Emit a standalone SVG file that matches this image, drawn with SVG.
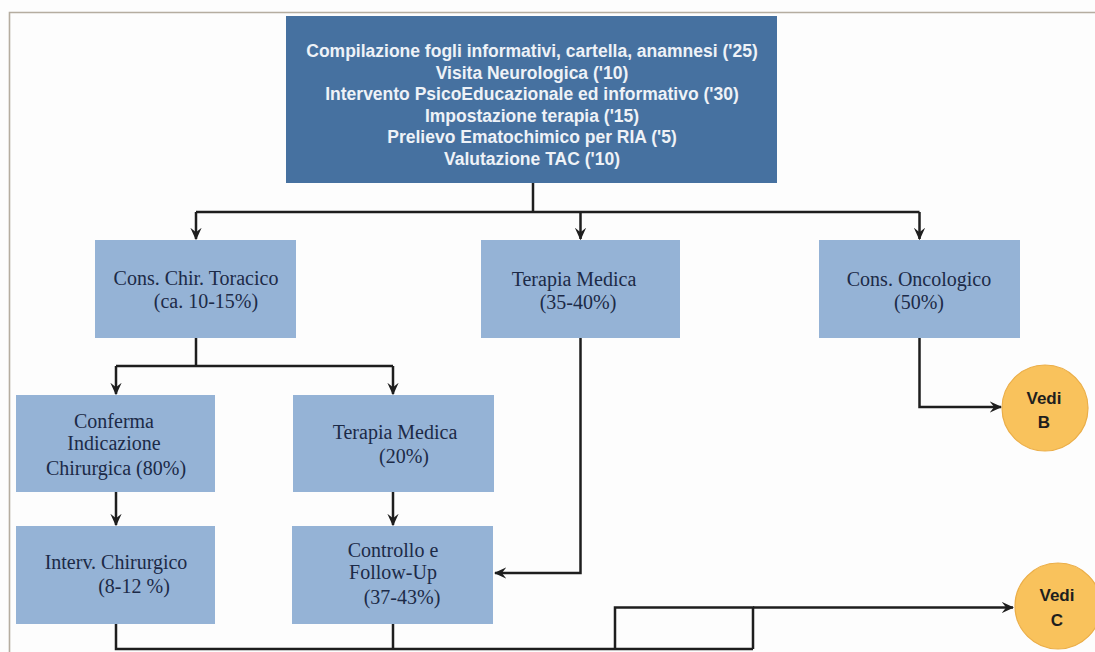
<svg xmlns="http://www.w3.org/2000/svg" width="1095" height="652" viewBox="0 0 1095 652">
<style>
.bg{fill:#fdfdfd}
.frame{fill:none;stroke:#b5ada0;stroke-width:1.6}
.top{fill:#4671a0}
.box{fill:#95b3d6}
.tt{font-family:"Liberation Sans",Arial,sans-serif;font-weight:bold;font-size:17.5px;fill:#eef2f7;text-anchor:middle}
.bt{font-family:"Liberation Serif","Times New Roman",serif;font-size:20px;fill:#1c2a47;text-anchor:middle}
.circ{fill:#f9c25c;stroke:#ebae48;stroke-width:1.2}
.ct{font-family:"Liberation Sans",Arial,sans-serif;font-weight:bold;font-size:17px;fill:#1e1e1e;text-anchor:middle}
.ln{fill:none;stroke:#1e1e1e;stroke-width:2.5}
.ar{fill:none;stroke:#1e1e1e;stroke-width:2.5;marker-end:url(#ah)}
</style>
<defs>
<marker id="ah" viewBox="0 0 10 10" refX="9" refY="5" markerWidth="5" markerHeight="5" orient="auto" markerUnits="strokeWidth">
<path d="M0,0.5 L10,5 L0,9.5 L3.5,5 z" fill="#1e1e1e"/>
</marker>
</defs>
<rect class="bg" x="0" y="0" width="1095" height="652"/>
<path class="frame" d="M9.5,652 L9.5,12.5 L1095,12.5"/>

<g id="top">
<rect class="top" x="286" y="16" width="491" height="167"/>
<text class="tt" x="532" y="57">Compilazione fogli informativi, cartella, anamnesi ('25)</text>
<text class="tt" x="532" y="78.5">Visita Neurologica ('10)</text>
<text class="tt" x="532" y="100">Intervento PsicoEducazionale ed informativo ('30)</text>
<text class="tt" x="532" y="121.5">Impostazione terapia ('15)</text>
<text class="tt" x="532" y="143">Prelievo Ematochimico per RIA ('5)</text>
<text class="tt" x="532" y="164.5">Valutazione TAC ('10)</text>
</g>

<g id="cons-chir">
<rect class="box" x="95" y="240" width="201" height="98"/>
<text class="bt" x="196" y="285">Cons. Chir. Toracico</text>
<text class="bt" x="206" y="308">(ca. 10-15%)</text>
</g>

<g id="terapia-medica">
<rect class="box" x="481" y="240" width="199" height="98"/>
<text class="bt" x="574" y="286">Terapia Medica</text>
<text class="bt" x="578" y="309">(35-40%)</text>
</g>

<g id="cons-onco">
<rect class="box" x="819" y="240" width="201" height="98"/>
<text class="bt" x="919" y="286">Cons. Oncologico</text>
<text class="bt" x="919" y="309">(50%)</text>
</g>

<g id="conferma">
<rect class="box" x="16" y="395" width="199" height="97"/>
<text class="bt" x="114" y="428">Conferma</text>
<text class="bt" x="114" y="450">Indicazione</text>
<text class="bt" x="116" y="475">Chirurgica (80%)</text>
</g>

<g id="terapia-medica-20">
<rect class="box" x="293" y="395" width="201" height="97"/>
<text class="bt" x="395" y="439">Terapia Medica</text>
<text class="bt" x="404" y="463">(20%)</text>
</g>

<g id="interv">
<rect class="box" x="16" y="526" width="199" height="98"/>
<text class="bt" x="116" y="569">Interv. Chirurgico</text>
<text class="bt" x="134" y="593">(8-12 %)</text>
</g>

<g id="controllo">
<rect class="box" x="292" y="526" width="201" height="98"/>
<text class="bt" x="393" y="557">Controllo e</text>
<text class="bt" x="393" y="579">Follow-Up</text>
<text class="bt" x="402" y="604">(37-43%)</text>
</g>

<g id="vedi-b">
<circle class="circ" cx="1045" cy="408" r="43"/>
<text class="ct" x="1044" y="404">Vedi</text>
<text class="ct" x="1044" y="428">B</text>
</g>

<g id="vedi-c">
<circle class="circ" cx="1058" cy="606" r="43"/>
<text class="ct" x="1057" y="601">Vedi</text>
<text class="ct" x="1057" y="626">C</text>
</g>

<g id="connectors">
<path class="ln" d="M533,183 L533,212"/>
<path class="ln" d="M196,212 L919.5,212"/>
<path class="ar" d="M196,212 L196,239"/>
<path class="ar" d="M580.5,212 L580.5,239"/>
<path class="ar" d="M919.5,212 L919.5,239"/>
<path class="ln" d="M196,338 L196,366"/>
<path class="ln" d="M116,366 L393,366"/>
<path class="ar" d="M116,366 L116,394"/>
<path class="ar" d="M393,366 L393,394"/>
<path class="ar" d="M116,492 L116,525"/>
<path class="ar" d="M393,492 L393,525"/>
<path class="ar" d="M580.5,338 L580.5,573 L495,573"/>
<path class="ar" d="M919.5,338 L919.5,407 L1001,407"/>
<path class="ln" d="M116,624 L116,649 L753,649"/>
<path class="ln" d="M393,624 L393,649"/>
<path class="ln" d="M615,649 L615,607.5 L753,607.5 L753,649"/>
<path class="ar" d="M753,607.5 L1013,607.5"/>
</g>
</svg>
